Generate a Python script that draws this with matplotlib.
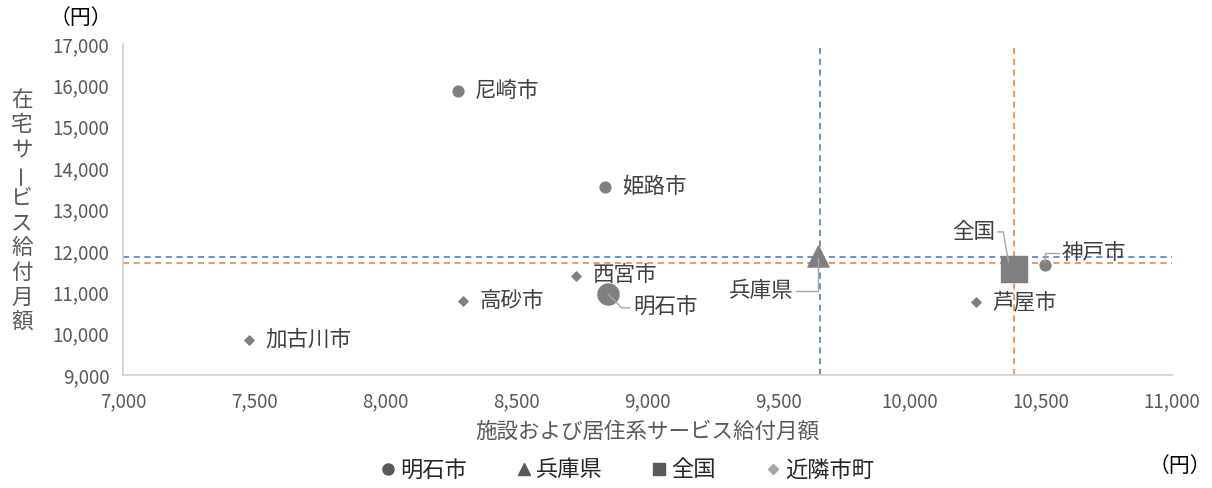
import matplotlib.pyplot as plt
from matplotlib.lines import Line2D

plt.rcParams['font.family'] = ['Noto Sans CJK JP', 'DejaVu Sans']

# 明石市
akashi = (8849, 10958)
# 兵庫県
hyogo = (9650, 11880)
# 全国
zenkoku = (10397, 11570)
# 近隣市町 (circles: larger cities, diamonds: others)
big_names = ['尼崎市', '姫路市', '神戸市']
big_x = [8277, 8838, 10515]
big_y = [15864, 13544, 11659]
near_names = ['西宮市', '高砂市', '加古川市', '芦屋市']
near_x = [8727, 8296, 7480, 10252]
near_y = [11393, 10789, 9847, 10765]
# reference lines (兵庫県 / 全国)
hyogo_line = (9657, 11845)
zenkoku_line = (10397, 11715)

xticks = list(range(7000, 11001, 500))
yticks = list(range(9000, 17001, 1000))

fig = plt.figure(figsize=(12.12, 4.88), dpi=100)
ax = fig.add_axes([0.1015, 0.2316, 0.8655, 0.6782])

gray = '#7f7f7f'
txt = '#404040'

ax.axvline(hyogo_line[0], color='#4472c4', ls=(0, (4, 3)), lw=1.1, zorder=1)
ax.axhline(hyogo_line[1], color='#4472c4', ls=(0, (4, 3)), lw=1.1, zorder=1)
ax.axvline(zenkoku_line[0], color='#ed7d31', ls=(0, (4, 3)), lw=1.1, zorder=1)
ax.axhline(zenkoku_line[1], color='#ed7d31', ls=(0, (4, 3)), lw=1.1, zorder=1)

ax.scatter(near_x, near_y, marker='D', s=22, color=gray, zorder=3)
ax.scatter(big_x, big_y, marker='o', s=60, color=gray, zorder=3)
ax.scatter(*akashi, marker='o', s=230, color=gray, zorder=3)
ax.scatter(*hyogo, marker='^', s=230, color=gray, zorder=3)
ax.scatter(*zenkoku, marker='s', s=340, color=gray, zorder=3)

fs = 15.5
# labels beside markers
for n, x, y in zip(big_names[:2], big_x[:2], big_y[:2]):
    ax.annotate(n, (x, y), xytext=(12, 0), textcoords='offset points', fontsize=fs, color=txt, va='center')
for n, x, y in zip(near_names, near_x, near_y):
    ax.annotate(n, (x, y), xytext=(12, 0), textcoords='offset points', fontsize=fs, color=txt, va='center')
ax.texts[2].set_position((12, 1))

lead = dict(arrowstyle='-', color='#a6a6a6', lw=1, shrinkA=0, shrinkB=0)
ax.annotate('明石市', akashi, xytext=(18, -10), textcoords='offset points', fontsize=fs, color=txt,
            va='center', ha='left',
            arrowprops=dict(lead, connectionstyle='angle,angleA=0,angleB=-45,rad=0'))
ax.annotate('兵庫県', (hyogo[0], hyogo[1] - 50), xytext=(-18, -24), textcoords='offset points', fontsize=fs,
            color=txt, va='center', ha='right',
            arrowprops=dict(lead, connectionstyle='angle,angleA=0,angleB=90,rad=0'))
ax.annotate('全国', (zenkoku[0] - 20, zenkoku[1] + 150), xytext=(-10, 22), textcoords='offset points',
            fontsize=fs, color=txt, va='center', ha='right',
            arrowprops=dict(lead, connectionstyle='angle,angleA=0,angleB=-80,rad=0'))
ax.annotate('神戸市', (big_x[2], big_y[2] + 80), xytext=(12, 6), textcoords='offset points', fontsize=fs,
            color=txt, va='center', ha='left',
            arrowprops=dict(lead, connectionstyle='angle,angleA=0,angleB=90,rad=0'))

ax.set_xlim(7000, 11000)
ax.set_ylim(9000, 17000)
ax.set_xticks(xticks)
ax.set_yticks(yticks)
ax.set_xticklabels([f'{v:,}' for v in xticks])
ax.set_yticklabels([f'{v:,}' for v in yticks])
ax.tick_params(length=0, labelsize=13.5, colors='#595959')
ax.tick_params(axis='y', pad=10)
ax.tick_params(axis='x', pad=12)
for s in ['top', 'right']:
    ax.spines[s].set_visible(False)
for s in ['left', 'bottom']:
    ax.spines[s].set_color('#d0d0d0')
    ax.spines[s].set_linewidth(1.2)

ax.set_xlabel('施設および居住系サービス給付月額', fontsize=15.5, color='#595959', labelpad=6)

# vertical y label
ylabel = '在宅サービス給付月額'
for i, ch in enumerate(ylabel):
    yy = 1 - (100 + i * 24.7) / 488
    fig.text(22 / 1212, yy, ch, fontsize=15.5, color='#595959', ha='center', va='center',
             rotation=90 if ch == 'ー' else 0)

fig.text(81 / 1212, 1 - 18 / 488, '（円）', fontsize=15, color='black', ha='center', va='center')
fig.text(1180 / 1212, 1 - 466 / 488, '（円）', fontsize=15, color='black', ha='center', va='center')

handles = [
    Line2D([], [], marker='o', ls='', color='#595959', markersize=8, label='明石市'),
    Line2D([], [], marker='^', ls='', color='#595959', markersize=9, label='兵庫県'),
    Line2D([], [], marker='s', ls='', color='#595959', markersize=9, label='全国'),
    Line2D([], [], marker='D', ls='', color='#a6a6a6', markersize=5.5, label='近隣市町'),
]
fig.legend(handles=handles, loc='center', bbox_to_anchor=(625 / 1212, 1 - 470 / 488), ncol=4,
           frameon=False, fontsize=16, handletextpad=0.0, columnspacing=2.0, handlelength=1.1,
           labelcolor='#262626')

fig.savefig('out.png', dpi=100)
